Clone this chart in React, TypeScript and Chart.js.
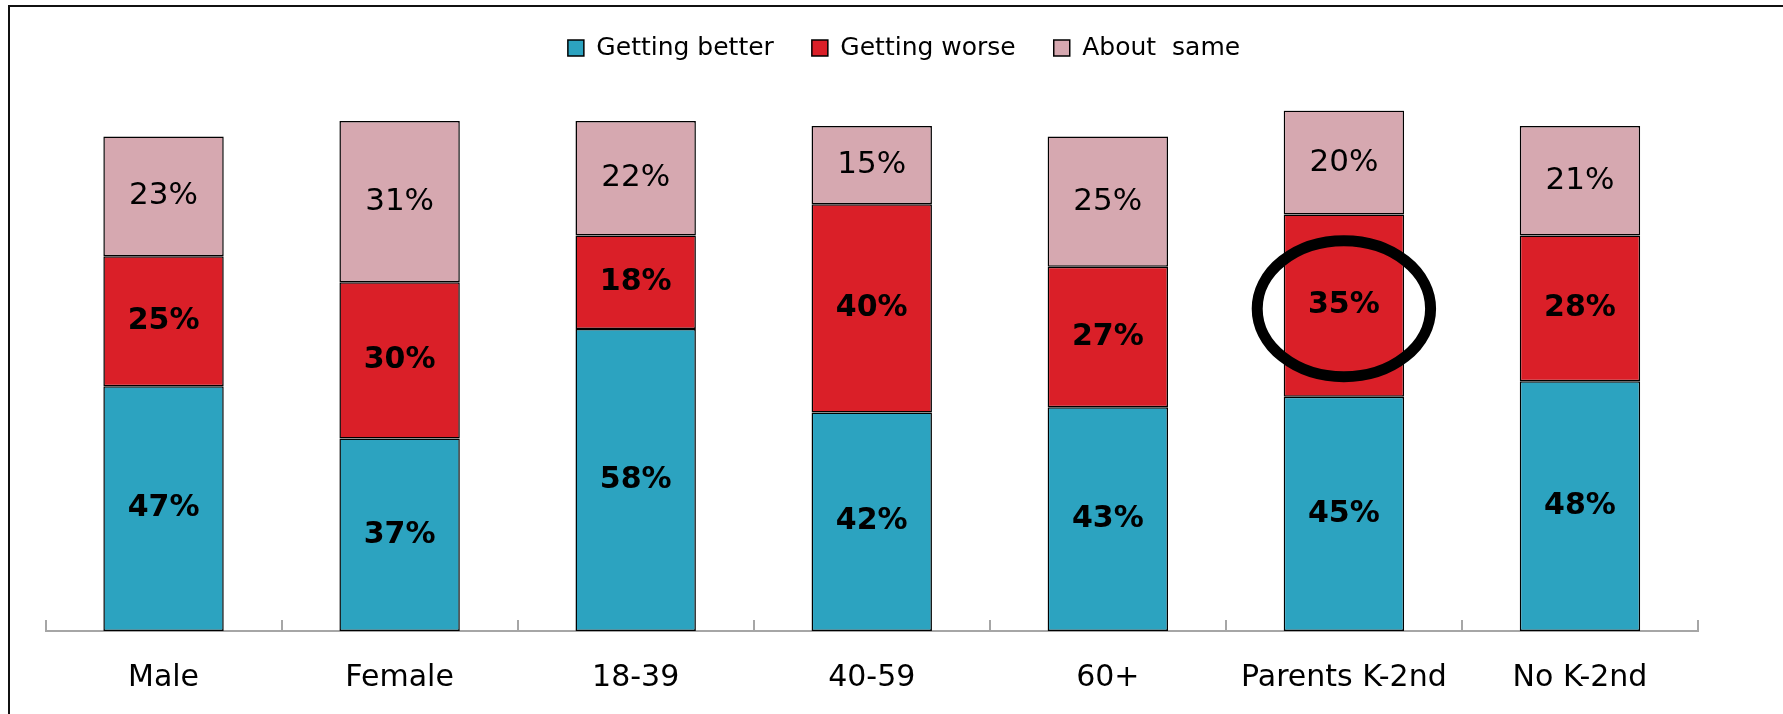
import React, { useEffect, useRef } from "react";
import { Chart, registerables } from "chart.js";

Chart.register(...registerables);

const categories = ["Male", "Female", "18-39", "40-59", "60+", "Parents K-2nd", "No K-2nd"];
const seriesNames = ["Getting better", "Getting worse", "About  same"];
const gettingBetter = [47, 37, 58, 42, 43, 45, 48];
const gettingWorse = [25, 30, 18, 40, 27, 35, 28];
const aboutSame = [23, 31, 22, 15, 25, 20, 21];
const seriesColors = ["#2CA3C0", "#DA1F28", "#D6A8B0"];
const boldLabels = [true, true, false];
const highlightDataset = 1;
const highlightIndex = 5;

const FONT = "'DejaVu Sans', sans-serif";

const legendSpacer = {
  id: "legendSpacer",
  beforeInit(chart: any) {
    const legend = chart.legend;
    if (!legend) return;
    const fit = legend.fit;
    legend.fit = function () {
      fit.call(legend);
      this.height += 40;
    };
  },
};

const valueLabels = {
  id: "valueLabels",
  afterDatasetsDraw(chart: any) {
    const ctx = chart.ctx;
    ctx.save();
    ctx.textAlign = "center";
    ctx.textBaseline = "middle";
    ctx.fillStyle = "#000";
    chart.data.datasets.forEach((ds: any, di: number) => {
      const meta = chart.getDatasetMeta(di);
      ctx.font = boldLabels[di] ? `bold 30px ${FONT}` : `31px ${FONT}`;
      meta.data.forEach((el: any, i: number) => {
        const v = ds.data[i];
        const y = (el.y + el.base) / 2;
        ctx.fillText(`${v}%`, el.x, y);
      });
    });
    // highlight ellipse
    const hm = chart.getDatasetMeta(highlightDataset);
    const hel: any = hm.data[highlightIndex];
    if (hel) {
      const cy = (hel.y + hel.base) / 2 + 3;
      ctx.beginPath();
      ctx.lineWidth = 11;
      ctx.strokeStyle = "#000";
      ctx.ellipse(hel.x, cy, hel.width * 0.72, 68, 0, 0, Math.PI * 2);
      ctx.stroke();
    }
    ctx.restore();
  },
};

export default function App() {
  const ref = useRef<HTMLCanvasElement>(null);
  useEffect(() => {
    if (!ref.current) return;
    const series = [gettingBetter, gettingWorse, aboutSame];
    const chart = new Chart(ref.current, {
      type: "bar",
      data: {
        labels: categories,
        datasets: series.map((d, i) => ({
          label: seriesNames[i],
          data: d,
          backgroundColor: seriesColors[i],
          borderColor: "#000",
          borderWidth: 1.5,
          borderSkipped: false,
          categoryPercentage: 1,
          barPercentage: 0.51,
        })),
      },
      options: {
        responsive: false,
        animation: false,
        layout: { padding: { left: 25, right: 0, top: -2.5, bottom: 0 } },
        plugins: {
          tooltip: { enabled: false },
          legend: {
            position: "top",
            labels: {
              boxWidth: 16,
              boxHeight: 16,
              padding: 38,
              color: "#000",
              font: { family: FONT, size: 25 },
            },
          },
        },
        scales: {
          x: {
            stacked: true,
            grid: {
              display: true,
              drawOnChartArea: false,
              drawTicks: true,
              tickLength: -11,
              color: "#A6A6A6",
              lineWidth: 2,
            },
            border: { display: true, color: "#A6A6A6", width: 2 },
            ticks: {
              color: "#000",
              padding: 40,
              font: { family: FONT, size: 30 },
              maxRotation: 0,
              autoSkip: false,
            },
            afterFit(s: any) {
              s.height = 83;
            },
          },
          y: {
            stacked: true,
            min: 0,
            max: 100,
            display: true,
            ticks: { display: false },
            grid: { display: false },
            border: { display: false },
            afterFit(s: any) {
              s.width = 20.5;
            },
          },
          y2: {
            position: "right",
            display: true,
            min: 0,
            max: 100,
            ticks: { display: false },
            grid: { display: false },
            border: { display: false },
            afterFit(s: any) {
              s.width = 85;
            },
          },
        },
      } as any,
      plugins: [legendSpacer, valueLabels],
    });
    return () => chart.destroy();
  }, []);

  return (
    <div
      style={{
        position: "fixed",
        left: 0,
        top: 0,
        width: 1783,
        height: 714,
        overflow: "hidden",
        background: "#fff",
      }}
    >
      <div
        style={{
          position: "absolute",
          left: 8,
          top: 5,
          width: 2000,
          height: 1000,
          borderTop: "2px solid #111",
          borderLeft: "2px solid #111",
        }}
      />
      <canvas
        ref={ref}
        width={1783}
        height={714}
        style={{ position: "absolute", left: 0, top: 0, width: 1783, height: 714 }}
      />
    </div>
  );
}
